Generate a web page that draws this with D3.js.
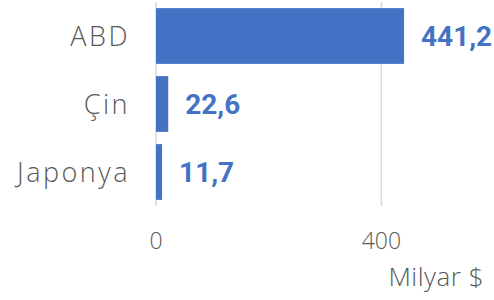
<!DOCTYPE html>
<meta charset="utf-8">
<style>
body { margin: 0; background: #fff; }
.grid line { stroke: #d9d9d9; stroke-width: 1.5px; }
.grid path { stroke-width: 0; }
.cat { font-family: "Open Sans", sans-serif; font-weight: 300; font-size: 27px; fill: #595959; letter-spacing: 2.5px; }
.tick text { font-family: "Open Sans", sans-serif; font-weight: 300; font-size: 23px; fill: #595959; }
.val { font-family: Roboto, sans-serif; font-weight: bold; font-size: 28px; fill: #4472c4; }
.unit { font-family: "Open Sans", sans-serif; font-weight: 300; font-size: 26px; fill: #595959; letter-spacing: 0.5px; }
</style>
<svg width="494" height="300"></svg>
<script src="https://d3js.org/d3.v7.min.js"></script>
<script>

var categories = ["ABD", "Çin", "Japonya"];
var values = [441.2, 22.6, 11.7];
var tickValues = [0, 400];
var unitLabel = "Milyar $";

var svg = d3.select("svg");

var x = d3.scaleLinear().domain([0, 600]).range([155.5, 493.5]);
var y = d3.scaleBand().domain(categories).range([2, 206])
    .paddingInner(0.18).paddingOuter(0.09);

// grid + tick labels
var axis = svg.append("g")
    .attr("class", "grid")
    .attr("transform", "translate(0,206)")
    .call(d3.axisBottom(x).tickValues(tickValues).tickSize(-204).tickPadding(22));
axis.selectAll(".tick text").attr("dy", "0.9em");

// bars
svg.selectAll(".bar")
    .data(values)
  .enter().append("rect")
    .attr("class", "bar")
    .attr("x", x(0) + 0.5)
    .attr("y", function(d, i) { return y(categories[i]); })
    .attr("width", function(d) { return x(d) - x(0) - 0.5; })
    .attr("height", y.bandwidth())
    .attr("fill", "#4472c4");

// value labels
svg.selectAll(".val")
    .data(values)
  .enter().append("text")
    .attr("class", "val")
    .attr("x", function(d) { return x(d) + 17; })
    .attr("y", function(d, i) { return y(categories[i]) + y.bandwidth() / 2; })
    .attr("dy", "0.36em")
    .text(function(d) { return d3.format(".1f")(d).replace(".", ","); });

// category labels (right edge at 128, trailing letter-spacing offset)
svg.selectAll(".cat")
    .data(categories)
  .enter().append("text")
    .attr("class", "cat")
    .attr("x", 130)
    .attr("y", function(d) { return y(d) + y.bandwidth() / 2; })
    .attr("dy", "0.36em")
    .attr("text-anchor", "end")
    .text(function(d) { return d; });

svg.append("text")
    .attr("class", "unit")
    .attr("x", 484)
    .attr("y", 286)
    .attr("text-anchor", "end")
    .text(unitLabel);

</script>
